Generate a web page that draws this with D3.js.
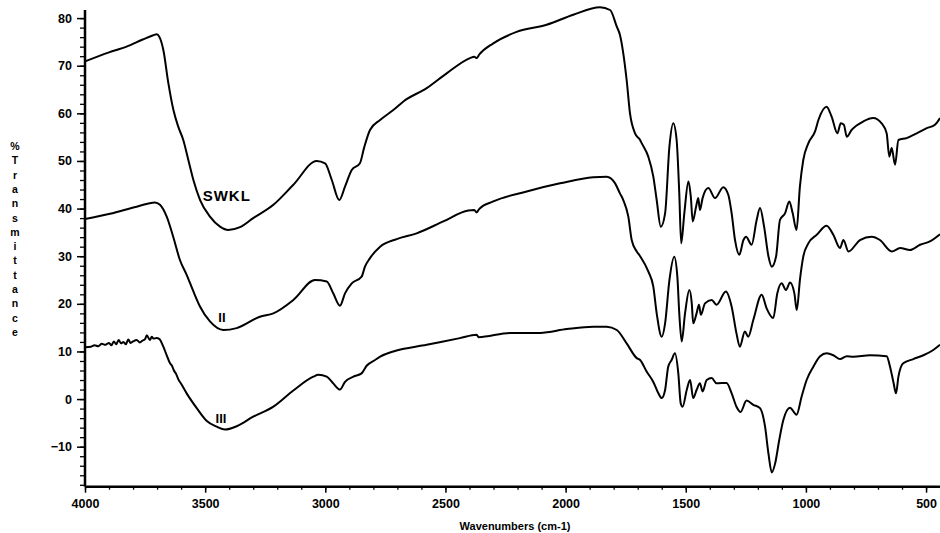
<!DOCTYPE html>
<html>
<head>
<meta charset="utf-8">
<script src="https://cdn.jsdelivr.net/npm/d3@7"></script>
<style>
  body { margin: 0; background: #fff; }
  svg { display: block; }
  text { font-family: Arial, "Liberation Sans", sans-serif; fill: #000; }
</style>
</head>
<body>
<div id="chart"></div>
<script>
// FTIR spectra, wavenumber (cm-1) vs %T
const swklWn = [4000, 3900, 3827, 3760, 3716, 3702, 3690, 3674, 3653, 3632, 3612, 3591, 3570, 3549, 3521, 3480, 3438, 3404, 3355, 3300, 3216, 3133, 3036, 3001, 2973, 2942, 2918, 2890, 2856, 2839, 2814, 2772, 2717, 2675, 2578, 2495, 2398, 2380, 2370, 2360, 2301, 2204, 2079, 1968, 1857, 1815, 1787, 1774, 1760, 1746, 1732, 1711, 1690, 1683, 1656, 1635, 1621, 1604, 1586, 1568, 1552, 1538, 1527, 1519, 1506, 1489, 1479, 1471, 1457, 1448, 1441, 1430, 1406, 1378, 1344, 1323, 1309, 1295, 1277, 1260, 1249, 1226, 1205, 1191, 1174, 1156, 1142, 1124, 1108, 1087, 1069, 1055, 1039, 1025, 1011, 990, 962, 948, 914, 893, 869, 855, 842, 830, 810, 761, 720, 685, 664, 653, 643, 629, 615, 581, 539, 497, 463, 442];
const swklT  = [70.9, 72.8, 74.0, 75.5, 76.4, 76.6, 76.0, 73.3, 66.3, 60.7, 57.2, 54.4, 50.2, 46.0, 41.8, 38.3, 36.2, 35.5, 36.1, 38.0, 40.8, 45.0, 50.0, 49.5, 46.0, 41.8, 44.6, 48.1, 49.5, 52.7, 56.5, 58.6, 60.7, 62.5, 65.3, 68.4, 71.6, 71.9, 71.6, 72.3, 74.7, 77.1, 78.6, 80.7, 82.3, 81.7, 78.2, 76.5, 72.6, 67.0, 60.0, 55.8, 54.4, 53.7, 50.9, 46.7, 41.8, 36.2, 39.0, 53.0, 57.9, 54.4, 43.2, 32.7, 39.0, 45.7, 42.5, 37.3, 40.4, 42.2, 39.7, 42.2, 44.3, 42.2, 44.5, 42.9, 39.0, 33.4, 30.3, 33.4, 34.1, 32.4, 37.6, 40.1, 36.2, 30.0, 27.8, 30.0, 37.6, 39.0, 41.5, 39.0, 35.5, 44.6, 50.2, 53.7, 56.2, 58.6, 61.4, 59.3, 55.8, 57.9, 57.6, 55.1, 56.5, 58.3, 59.0, 57.9, 55.8, 50.9, 52.7, 49.2, 54.4, 54.8, 55.8, 56.9, 57.6, 59.0];

const iiWn = [4000, 3896, 3785, 3709, 3688, 3660, 3633, 3605, 3577, 3549, 3521, 3480, 3424, 3369, 3272, 3216, 3133, 3043, 2994, 2967, 2939, 2918, 2890, 2849, 2835, 2814, 2772, 2703, 2620, 2509, 2405, 2380, 2370, 2360, 2301, 2162, 2023, 1885, 1829, 1794, 1774, 1760, 1739, 1725, 1704, 1690, 1656, 1635, 1621, 1600, 1586, 1568, 1548, 1535, 1527, 1517, 1503, 1485, 1475, 1469, 1455, 1445, 1437, 1420, 1392, 1372, 1333, 1309, 1289, 1275, 1254, 1240, 1219, 1184, 1164, 1136, 1119, 1101, 1083, 1066, 1048, 1038, 1025, 1011, 990, 955, 914, 886, 858, 844, 823, 775, 726, 692, 643, 608, 567, 525, 484, 442];
const iiT  = [37.8, 38.9, 40.4, 41.3, 40.8, 38.3, 34.1, 29.2, 26.1, 22.6, 19.4, 16.3, 14.5, 14.9, 17.3, 18.0, 20.8, 25.0, 24.7, 22.2, 19.6, 22.2, 24.3, 25.7, 27.8, 29.6, 32.0, 33.6, 34.8, 37.3, 39.6, 39.7, 39.2, 39.9, 41.5, 43.6, 45.3, 46.6, 46.7, 45.3, 43.2, 41.8, 38.3, 33.4, 31.0, 30.0, 26.8, 23.6, 18.0, 13.1, 15.9, 25.0, 29.9, 25.7, 18.0, 12.1, 18.0, 22.9, 20.1, 15.9, 18.0, 19.8, 17.7, 20.1, 20.8, 19.8, 22.6, 19.4, 13.8, 11.0, 14.2, 13.1, 16.6, 21.9, 19.1, 17.0, 22.2, 24.3, 22.9, 24.5, 22.2, 18.7, 25.0, 29.9, 32.7, 34.5, 36.4, 34.5, 31.7, 33.4, 31.0, 33.4, 34.1, 33.4, 31.0, 31.7, 31.3, 32.4, 33.1, 34.6];

const iiiWn = [4000, 3975, 3960, 3945, 3930, 3915, 3900, 3890, 3880, 3870, 3860, 3850, 3840, 3830, 3820, 3810, 3800, 3785, 3772, 3760, 3750, 3743, 3730, 3722, 3715, 3702, 3690, 3674, 3660, 3646, 3638, 3630, 3620, 3612, 3600, 3577, 3535, 3493, 3452, 3417, 3369, 3300, 3216, 3133, 3050, 3029, 2994, 2967, 2939, 2918, 2883, 2849, 2828, 2793, 2772, 2717, 2578, 2440, 2370, 2362, 2231, 2106, 1995, 1885, 1829, 1787, 1746, 1704, 1690, 1663, 1635, 1614, 1600, 1586, 1573, 1559, 1545, 1531, 1521, 1513, 1496, 1482, 1469, 1455, 1441, 1430, 1413, 1392, 1372, 1330, 1309, 1289, 1272, 1247, 1219, 1191, 1170, 1156, 1142, 1128, 1111, 1094, 1066, 1046, 1039, 1018, 997, 969, 941, 914, 886, 858, 830, 803, 733, 664, 650, 636, 625, 615, 595, 553, 511, 470, 442];
const iiiT  = [10.9, 11.0, 11.3, 11.1, 11.6, 11.4, 11.8, 11.3, 12.1, 11.5, 12.4, 11.7, 12.0, 11.5, 12.5, 11.8, 12.1, 12.4, 11.9, 12.3, 12.6, 13.4, 12.4, 13.1, 12.7, 12.8, 12.6, 11.0, 9.2, 7.5, 7.0, 6.0, 5.2, 4.2, 3.2, 1.2, -1.9, -4.6, -5.8, -6.4, -5.7, -3.7, -1.6, 1.8, 4.7, 5.1, 4.7, 3.3, 2.0, 3.6, 4.7, 5.4, 7.0, 8.2, 8.9, 10.0, 11.4, 12.8, 13.5, 13.0, 13.9, 13.9, 14.7, 15.2, 15.2, 14.5, 11.7, 8.6, 8.2, 5.8, 3.6, 1.2, 0.2, 1.9, 6.8, 8.2, 9.6, 5.4, -0.9, -1.6, 1.9, 4.0, 0.2, 1.9, 3.3, 1.6, 4.0, 4.4, 3.3, 3.4, 1.2, -1.6, -2.7, -0.3, -1.2, -1.9, -5.8, -11.4, -15.4, -13.5, -8.6, -4.4, -1.8, -3.0, -3.3, 0.5, 4.0, 6.8, 9.0, 9.6, 9.2, 8.4, 9.0, 8.9, 9.2, 9.0, 6.8, 3.6, 1.2, 4.7, 7.5, 8.4, 9.2, 10.3, 11.4];

const xTicks = [4000, 3500, 3000, 2500, 2000, 1500, 1000, 500];
const yTicks = [-10, 0, 10, 20, 30, 40, 50, 60, 70, 80];

const series = [
  { name: "SWKL", wn: swklWn, t: swklT },
  { name: "II", wn: iiWn, t: iiT },
  { name: "III", wn: iiiWn, t: iiiT }
];
const curveLabels = [
  { text: "SWKL", wn: 3410, t: 41.5 },
  { text: "II", wn: 3430, t: 16.2 },
  { text: "III", wn: 3434, t: -5.0 }
];

const width = 940, height = 533;
const mLeft = 85, mRight = 940, mTop = 10, mBottom = 486.7;

const svg = d3.select("#chart").append("svg")
  .attr("width", width)
  .attr("height", height);

svg.append("rect").attr("width", width).attr("height", height).attr("fill", "#fff");

const x = d3.scaleLinear().domain([4000, 442]).range([mLeft, mRight]);
const y = d3.scaleLinear().domain([-18.4, 81.7]).range([mBottom, mTop]);

// minor ticks first
svg.append("g")
  .attr("transform", `translate(0,${mBottom})`)
  .call(d3.axisBottom(x).tickValues(d3.range(4000, 441, -100)).tickSize(3).tickFormat(""))
  .call(g => g.select(".domain").remove())
  .selectAll("line").attr("stroke", "#000").attr("stroke-width", 1.3);

svg.append("g")
  .attr("transform", `translate(${mLeft},0)`)
  .call(d3.axisLeft(y).tickValues(d3.range(-18, 81, 2)).tickSize(5).tickFormat(""))
  .call(g => g.select(".domain").remove())
  .selectAll("line").attr("stroke", "#000").attr("stroke-width", 1.3);

// major ticks + labels
const xAxis = svg.append("g")
  .attr("transform", `translate(0,${mBottom})`)
  .call(d3.axisBottom(x).tickValues(xTicks).tickSize(6).tickPadding(6).tickFormat(d3.format("d")));
xAxis.select(".domain").remove();
xAxis.selectAll("line").attr("stroke", "#000").attr("stroke-width", 1.5);
xAxis.selectAll("text").attr("font-size", 12.5).attr("font-weight", "bold")
  .attr("font-family", "Arial, 'Liberation Sans', sans-serif").attr("fill", "#000");

const yAxis = svg.append("g")
  .attr("transform", `translate(${mLeft},0)`)
  .call(d3.axisLeft(y).tickValues(yTicks).tickSize(8).tickPadding(5).tickFormat(d3.format("d")));
yAxis.select(".domain").remove();
yAxis.selectAll("line").attr("stroke", "#000").attr("stroke-width", 1.5);
yAxis.selectAll("text").attr("font-size", 12.5).attr("font-weight", "bold")
  .attr("font-family", "Arial, 'Liberation Sans', sans-serif").attr("fill", "#000");

// axis lines
svg.append("line").attr("x1", mLeft).attr("x2", mLeft).attr("y1", mTop).attr("y2", mBottom)
  .attr("stroke", "#000").attr("stroke-width", 2.5);
svg.append("line").attr("x1", mLeft).attr("x2", mRight).attr("y1", mBottom).attr("y2", mBottom)
  .attr("stroke", "#000").attr("stroke-width", 2.5);

// spectra
const line = d3.line()
  .x(d => x(d[0]))
  .y(d => y(d[1]))
  .curve(d3.curveMonotoneX);

svg.append("g").selectAll("path")
  .data(series)
  .join("path")
  .attr("d", s => line(s.wn.map((w, i) => [w, s.t[i]])))
  .attr("fill", "none")
  .attr("stroke", "#000")
  .attr("stroke-width", 2)
  .attr("stroke-linejoin", "round");

// curve names
svg.append("g").selectAll("text")
  .data(curveLabels)
  .join("text")
  .attr("x", d => x(d.wn))
  .attr("y", d => y(d.t))
  .attr("text-anchor", "middle")
  .attr("font-size", d => d.text === "SWKL" ? 15 : 13)
  .attr("font-weight", "bold")
  .attr("letter-spacing", d => d.text === "SWKL" ? 1 : 0)
  .attr("font-family", d => d.text === "SWKL" ? "'DejaVu Sans', sans-serif" : "'Liberation Serif', serif")
  .text(d => d.text);

// x title
svg.append("text")
  .attr("x", 515)
  .attr("y", 530)
  .attr("text-anchor", "middle")
  .attr("font-size", 11)
  .attr("font-weight", "bold")
  .text("Wavenumbers (cm-1)");

// y title, stacked letters
const yTitle = "%Transmittance".split("");
svg.append("g").selectAll("text")
  .data(yTitle)
  .join("text")
  .attr("x", 15)
  .attr("y", (d, i) => 150 + i * 14.3)
  .attr("text-anchor", "middle")
  .attr("font-size", 10.5)
  .attr("font-weight", "bold")
  .text(d => d);
</script>
</body>
</html>
